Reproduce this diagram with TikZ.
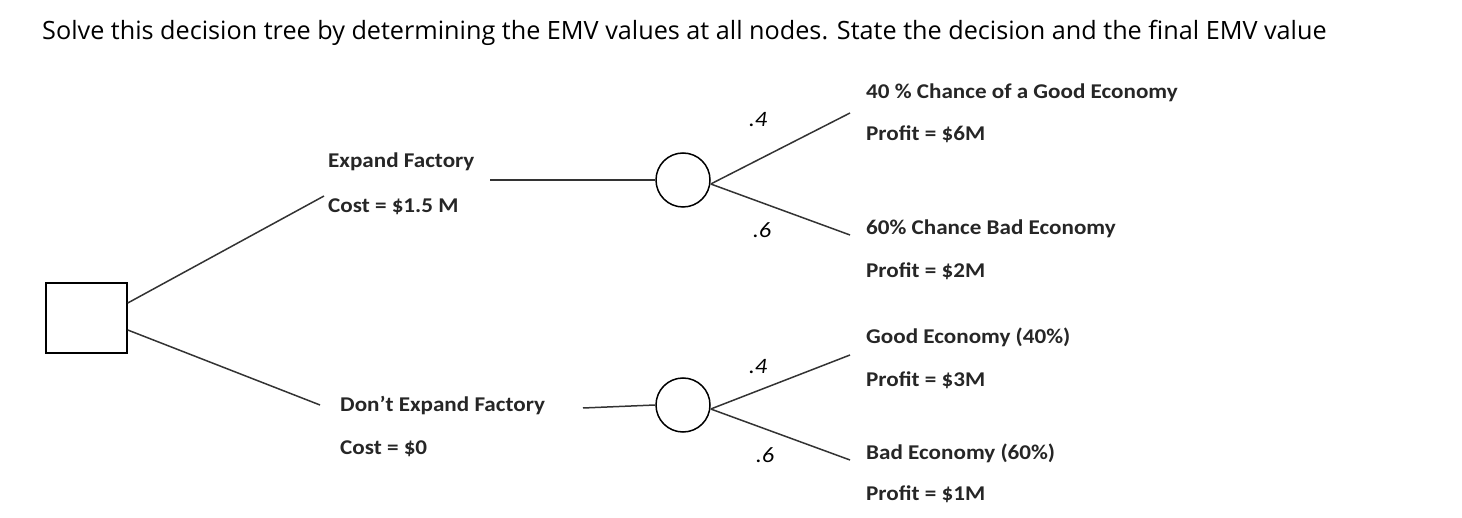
\documentclass[tikz,border=0pt]{standalone}
\usepackage{fontspec}
\setmainfont{Carlito}[FakeStretch=1.1]
\newfontfamily\titlefont{Open Sans}
\usetikzlibrary{positioning}
\tikzset{
  lbl/.style={anchor=west,inner sep=0pt,font=\fontsize{21}{24}\selectfont\bfseries,text=black!85},
  prob/.style={inner sep=0pt,font=\fontsize{22}{24}\selectfont\itshape},
  chance/.style={draw,circle,minimum size=54pt,inner sep=0pt,line width=1.5pt},
  branch/.style={line width=1.5pt,black!80}
}
\begin{document}
\begin{tikzpicture}[x=1pt,y=1pt,yscale=-1]
\useasboundingbox (0,0) rectangle (1462,518);
% title
\node[anchor=west,inner sep=0pt,font=\titlefont\fontsize{25.2}{28}\selectfont] (title) at (42,33)
  {Solve this decision tree by determining the EMV values at all nodes. State the decision and the final EMV value};
% decision node
\node[draw,line width=1.5pt,minimum width=81pt,minimum height=70pt,inner sep=0pt] (dec) at (86.5,318) {};
% upper branch
\node[lbl] (expand) at (328,162) {Expand Factory};
\node[lbl] (costA) at (328,207) {Cost = \$1.5 M};
\coordinate (endA) at (324,196);
\coordinate (startA) at (490,180);
\node[chance] (cA) at (683,180) {};
\draw[branch] (dec.east |- 0,303) -- (endA);
\draw[branch] (startA) -- (cA.west);
\coordinate (tipA1) at (850,113);
\coordinate (tipA2) at (850,235);
\draw[branch] (cA.east) ++(0,4) coordinate (forkA) -- (tipA1);
\draw[branch] (forkA) -- (tipA2);
\node[prob] (pA1) at (758,120) {.4};
\node[prob] (pA2) at (762,230) {.6};
\node[lbl] (gA) at (866,93) {40 \% Chance of a Good Economy};
\node[lbl] (gAp) at (866,134) {Profit = \$6M};
\node[lbl] (bA) at (866,229) {60\% Chance Bad Economy};
\node[lbl] (bAp) at (866,271) {Profit = \$2M};
% lower branch
\node[lbl] (noexp) at (340,406) {Don’t Expand Factory};
\node[lbl] (costB) at (340,449) {Cost = \$0};
\coordinate (endB) at (320,405);
\coordinate (startB) at (583,408);
\node[chance] (cB) at (683,405) {};
\draw[branch] (dec.east |- 0,330) -- (endB);
\draw[branch] (startB) -- (cB.west);
\coordinate (tipB1) at (850,355);
\coordinate (tipB2) at (850,460);
\draw[branch] (cB.east) ++(0,4) coordinate (forkB) -- (tipB1);
\draw[branch] (forkB) -- (tipB2);
\node[prob] (pB1) at (758,367) {.4};
\node[prob] (pB2) at (765,455) {.6};
\node[lbl] (gB) at (866,337) {Good Economy (40\%)};
\node[lbl] (gBp) at (866,380) {Profit = \$3M};
\node[lbl] (bB) at (866,453) {Bad Economy (60\%)};
\node[lbl] (bBp) at (866,494) {Profit = \$1M};
\end{tikzpicture}
\end{document}
